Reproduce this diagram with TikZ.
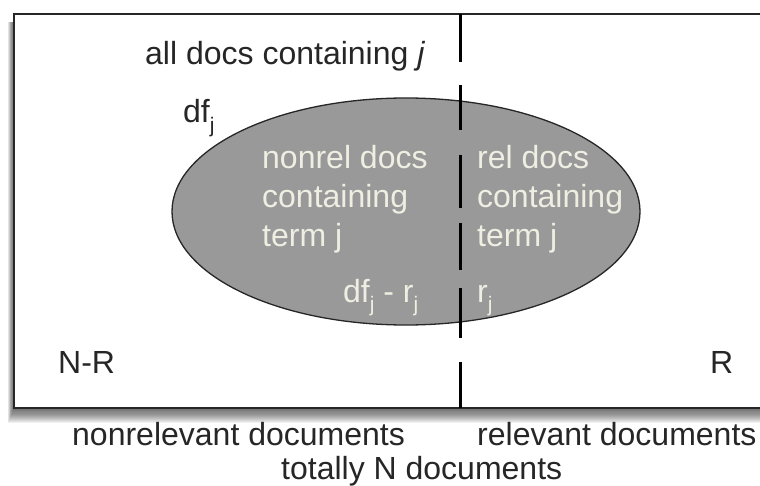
\documentclass[tikz,border=0pt]{standalone}
\usepackage{fontspec}
\setmainfont{Liberation Sans}
\usetikzlibrary{shapes.geometric}
\definecolor{setgray}{HTML}{999999}
\definecolor{intext}{HTML}{EEEEE2}
\newcommand\subj[1]{\raisebox{-0.3em}{\fontsize{21}{21}\selectfont #1}}
\tikzset{
  lbl/.style={anchor=base west, inner sep=0pt, font=\fontsize{32}{39}\selectfont, text=black!85},
  inlbl/.style={lbl, text=intext, align=left},
  frame/.style={draw=black!85, line width=2.6pt, fill=white},
  divider/.style={draw=black, line width=3pt,
    dash pattern=on 48pt off 23pt on 45pt off 25pt on 53pt off 15pt on 47pt off 18pt on 50pt off 24pt on 46pt off 100pt},
  setshape/.style={draw=black!85, line width=1.3pt, fill=setgray, ellipse, inner sep=0pt}
}
\begin{document}
\begin{tikzpicture}[x=1pt, y=-1pt]
\useasboundingbox (0,0) rectangle (760,486);
\clip (0,0) rectangle (760,486);
\fill[white] (0,0) rectangle (760,486);
% shadow
\foreach \s in {1,...,14}{
  \fill[black, opacity=0.055] (14-\s*0.45, 22) rectangle (800, 408+\s*1.1);
}
% frame
\draw[frame] (14,14) rectangle (800,408);
% set of docs containing j
\node[setshape, minimum width=468pt, minimum height=227pt] (set) at (406,211.5) {};
% divider
\coordinate (dtop) at (460,14);
\coordinate (dbot) at (460,408);
\draw[divider] (dtop) -- (dbot);
% labels
\node[lbl] (all) at (145,65) {all docs containing \textit{j}};
\node[lbl] (dfj) at (183,123) {df\subj{j}};
\node[inlbl, anchor=north west] (nonrel) at (262,145) {nonrel docs\\containing\\term j};
\node[inlbl, anchor=north west] (rel) at (477,145) {rel docs\\containing\\term j};
\node[inlbl] (dfr) at (343,302) {df\subj{j} - r\subj{j}};
\node[inlbl] (rj) at (477,302) {r\subj{j}};
\node[lbl] (NR) at (58,373) {N-R};
\node[lbl] (R) at (710,373) {R};
\node[lbl] (nonrelev) at (72,445) {nonrelevant documents};
\node[lbl] (relev) at (477,445) {relevant documents};
\node[lbl] (total) at (281,479) {totally N documents};
\end{tikzpicture}
\end{document}
